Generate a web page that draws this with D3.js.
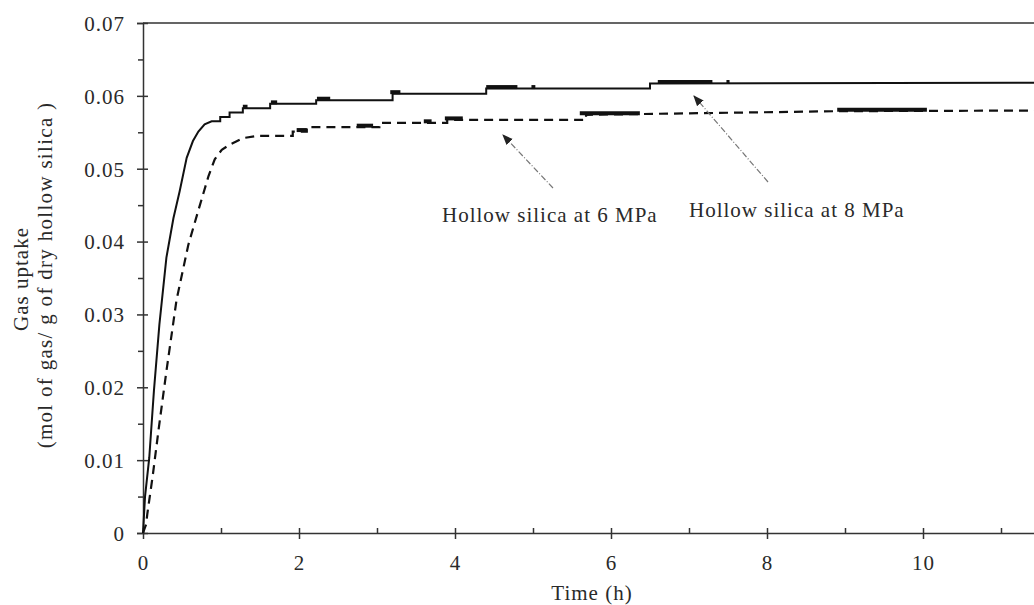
<!DOCTYPE html>
<html lang="en">
<head>
    <meta charset="UTF-8" />
    <title>Gas uptake of hollow silica</title>
    <script src="https://d3js.org/d3.v7.min.js"></script>
    <style>
        body { margin: 0; background: #fff; }
        text { font-family: "Liberation Serif", "Times New Roman", serif; fill: #2a2a2a; letter-spacing: 1px; }
    </style>
</head>
<body>
    <script>
        // 8 MPa (solid)
        var time8 = [0, 0.026, 0.08, 0.14, 0.21, 0.30, 0.39, 0.47, 0.56, 0.64, 0.71, 0.79, 0.88,
            0.99, 0.99, 1.11, 1.11, 1.28, 1.28, 1.63, 1.63, 2.22, 2.22, 3.2, 3.2, 4.4, 4.4, 6.5, 6.5, 12];
        var uptake8 = [0, 0.005, 0.0103, 0.0195, 0.0286, 0.0378, 0.0432, 0.0469, 0.0515, 0.0538, 0.0551, 0.0561, 0.0565,
            0.0565, 0.0571, 0.0571, 0.0577, 0.0577, 0.0583, 0.0583, 0.0589, 0.0589, 0.0594, 0.0594, 0.0603, 0.0603, 0.0610, 0.0610, 0.0617, 0.0618];

        // 6 MPa (dashed)
        var time6 = [0, 0.04, 0.055, 0.124, 0.20, 0.30, 0.43, 0.58, 0.71, 0.84, 0.92, 1.01, 1.11, 1.28, 1.46,
            1.92, 1.92, 2.1, 2.1, 3.03, 3.03, 3.9, 3.9, 5.68, 5.68, 7.0, 8.92, 12];
        var uptake6 = [0, 0.0012, 0.0026, 0.0078, 0.0142, 0.0222, 0.032, 0.0395, 0.0443, 0.0490, 0.0513, 0.0526, 0.0533, 0.0542, 0.0545,
            0.0545, 0.0551, 0.0551, 0.0557, 0.0557, 0.0563, 0.0563, 0.0567, 0.0567, 0.0574, 0.0576, 0.0579, 0.058];

        // noisy (thick) stretches of each record, in hours
        var noise8 = [[1.28, 1.34], [1.64, 1.72], [2.23, 2.4], [3.17, 3.3], [4.4, 4.8], [4.98, 5.03], [6.6, 7.3], [7.48, 7.52]];
        var noise6 = [[1.97, 2.1], [2.74, 2.95], [3.6, 3.7], [3.87, 4.1], [5.6, 6.37], [8.9, 10.05]];

        var xTicks = [0, 2, 4, 6, 8, 10];
        var xMinor = [1, 3, 5, 7, 9, 11];
        var yTicks = [0, 0.01, 0.02, 0.03, 0.04, 0.05, 0.06, 0.07];
        var yMinor = [0.005, 0.015, 0.025, 0.035, 0.045, 0.055, 0.065];

        var w = 1034;
        var h = 605;

        var xScale = d3.scaleLinear().domain([0, 12]).range([143, 143 + 78 * 12]);
        var yScale = d3.scaleLinear().domain([0, 0.07]).range([533, 23]);

        var svg = d3.select("body")
            .append("svg")
            .attr("width", w)
            .attr("height", h);

        // frame (top + right)
        svg.append("path")
            .attr("d", "M" + xScale(0) + "," + yScale(0.07) + "H" + xScale(12) + "V" + yScale(0))
            .attr("fill", "none")
            .attr("stroke", "#333")
            .attr("stroke-width", 1.5);

        // y axis
        var yAxis = svg.append("g")
            .attr("transform", "translate(" + xScale(0) + ",0)")
            .call(d3.axisLeft(yScale).tickValues(yTicks).tickSize(6)
                .tickFormat(function (d) { return d === 0 ? "0" : d3.format(".2f")(d); }));
        yAxis.selectAll(".tick line").attr("x1", 5).attr("x2", -6);
        yAxis.selectAll(".tick text").attr("x", -18).attr("dy", "0.35em").attr("font-size", "21px");

        svg.append("g")
            .attr("transform", "translate(" + xScale(0) + ",0)")
            .call(d3.axisLeft(yScale).tickValues(yMinor).tickSize(5).tickFormat(""))
            .select(".domain").remove();

        // x axis
        var xAxis = svg.append("g")
            .attr("transform", "translate(0," + yScale(0) + ")")
            .call(d3.axisBottom(xScale).tickValues(xTicks).tickSize(6).tickSizeOuter(0));
        xAxis.selectAll(".tick line").attr("y1", -5).attr("y2", 6);
        xAxis.selectAll(".tick text").attr("y", 37).attr("dy", 0).attr("font-size", "21px");

        svg.append("g")
            .attr("transform", "translate(0," + yScale(0) + ")")
            .call(d3.axisBottom(xScale).tickValues(xMinor).tickSize(-5).tickFormat(""))
            .select(".domain").remove();

        svg.selectAll(".domain, .tick line").attr("stroke", "#333").attr("stroke-width", 1.5);
        svg.selectAll(".tick text").attr("fill", "#2a2a2a");

        // axis titles
        svg.append("text")
            .text("Time (h)")
            .attr("x", 592)
            .attr("y", 600)
            .attr("text-anchor", "middle")
            .attr("font-size", "21px");

        svg.append("text")
            .text("Gas uptake")
            .attr("transform", "translate(28,279) rotate(-90)")
            .attr("text-anchor", "middle")
            .attr("font-size", "21px");

        svg.append("text")
            .text("(mol of gas/ g of dry hollow silica )")
            .attr("transform", "translate(52,275) rotate(-90)")
            .attr("text-anchor", "middle")
            .attr("font-size", "21px")
            .style("letter-spacing", "1.3px");

        // curves
        var line = d3.line()
            .x(function (d) { return xScale(d[0]); })
            .y(function (d) { return yScale(d[1]); });

        svg.append("path")
            .datum(d3.zip(time8, uptake8))
            .attr("d", line)
            .attr("fill", "none")
            .attr("stroke", "#111")
            .attr("stroke-width", 2);

        svg.append("path")
            .datum(d3.zip(time6, uptake6))
            .attr("d", line)
            .attr("fill", "none")
            .attr("stroke", "#111")
            .attr("stroke-width", 2.2)
            .attr("stroke-dasharray", "9,6");

        // value of a record at time t (last logged point not after t)
        function valueAt(times, values, t) {
            var i = d3.bisectRight(times, t) - 1;
            return values[Math.max(0, i)];
        }

        function drawNoise(spans, times, values) {
            svg.selectAll(null)
                .data(spans)
                .enter()
                .append("line")
                .attr("x1", function (d) { return xScale(d[0]); })
                .attr("x2", function (d) { return xScale(d[1]); })
                .attr("y1", function (d) { return yScale(valueAt(times, values, (d[0] + d[1]) / 2)) - 1.5; })
                .attr("y2", function (d) { return yScale(valueAt(times, values, (d[0] + d[1]) / 2)) - 1.5; })
                .attr("stroke", "#111")
                .attr("stroke-width", 4);
        }
        drawNoise(noise8, time8, uptake8);
        drawNoise(noise6, time6, uptake6);

        // annotations
        svg.append("defs").append("marker")
            .attr("id", "head")
            .attr("viewBox", "0 0 10 10")
            .attr("refX", 9).attr("refY", 5)
            .attr("markerWidth", 9).attr("markerHeight", 9)
            .attr("orient", "auto")
            .append("path")
            .attr("d", "M0,1L10,5L0,9z")
            .attr("fill", "#222");

        var notes = [
            { text: "Hollow silica at 6 MPa", tx: 442, ty: 222, from: [553, 188], to: [503, 135] },
            { text: "Hollow silica at 8 MPa", tx: 689, ty: 217, from: [768, 182], to: [694, 96] }
        ];

        notes.forEach(function (n) {
            svg.append("line")
                .attr("x1", n.from[0]).attr("y1", n.from[1])
                .attr("x2", n.to[0]).attr("y2", n.to[1])
                .attr("stroke", "#777")
                .attr("stroke-width", 1.2)
                .attr("stroke-dasharray", "6,2,1,2")
                .attr("marker-end", "url(#head)");
            svg.append("text")
                .text(n.text)
                .attr("x", n.tx)
                .attr("y", n.ty)
                .attr("font-size", "21px");
        });
    </script>
</body>
</html>
